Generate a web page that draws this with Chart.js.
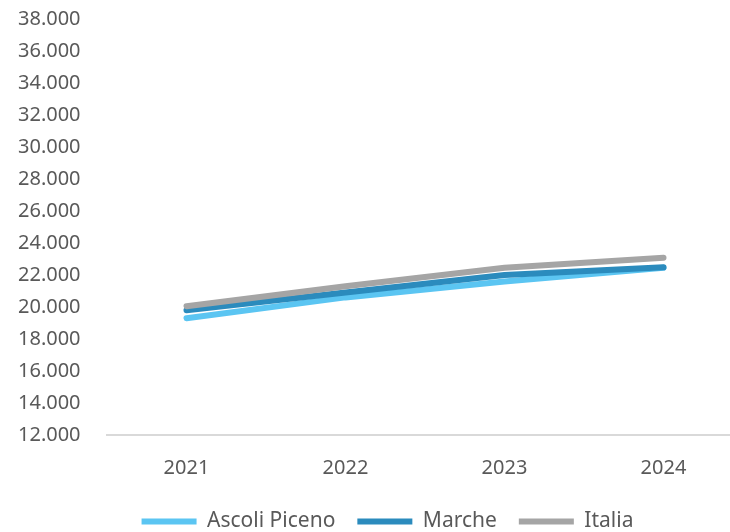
<!DOCTYPE html>
<html>
<head>
<meta charset="utf-8">
<script src="https://cdn.jsdelivr.net/npm/chart.js@4.4.1/dist/chart.umd.min.js"></script>
<style>
    html, body { margin: 0; padding: 0; background: #fff; overflow: hidden; }
    #wrap { position: relative; width: 743px; height: 532px; }
</style>
</head>
<body>
<div id="wrap"><canvas id="lineChart"></canvas></div>
<script>
// values
var years = ['2021', '2022', '2023', '2024'];
var ascoliPiceno = [19300, 20600, 21600, 22450];
var marche = [19800, 20900, 22000, 22480];
var italia = [20050, 21300, 22450, 23080];

var seriesNames = ['Ascoli Piceno', 'Marche', 'Italia'];
var seriesColors = ['#5bc5f2', '#2b8bbd', '#a5a5a5'];

var yMin = 12000;
var yMax = 38000;
var yStep = 2000;

function fmtThousands(v) {
    return String(v).replace(/\B(?=(\d{3})+(?!\d))/g, '.');
}

// nudge the legend into place after layout (chart.js ties its spacing to padding)
var legendShift = {
    id: 'legendShift',
    afterLayout: function (chart) {
        var lg = chart.legend;
        if (!lg) return;
        lg.left += 7;
        lg.right += 7;
        lg.top -= 12;
        lg.bottom -= 12;
    }
};

var ctx = document.getElementById('lineChart');
var allSeries = [ascoliPiceno, marche, italia];

var datasets = allSeries.map(function (vals, i) {
    return {
        label: seriesNames[i],
        data: vals,
        borderColor: seriesColors[i],
        backgroundColor: seriesColors[i],
        borderWidth: 6,
        borderCapStyle: 'round',
        borderJoinStyle: 'round',
        pointRadius: 0,
        tension: 0,
        fill: false,
        order: 2 - i   // Italia on top
    };
});

var chart = new Chart(ctx, {
    type: 'line',
    data: { labels: years, datasets: datasets },
    plugins: [legendShift],
    options: {
        responsive: true,
        maintainAspectRatio: false,
        animation: false,
        layout: { padding: { left: 18, right: 0, top: 19, bottom: -22 } },
        plugins: {
            tooltip: { enabled: false },
            legend: {
                position: 'bottom',
                labels: {
                    font: { family: 'Noto Sans', size: 21 },
                    color: '#595959',
                    boxWidth: 55,
                    boxHeight: 6,
                    padding: 22,
                    useBorderRadius: true,
                    borderRadius: 3,
                    generateLabels: function (c) {
                        return c.data.datasets.map(function (ds, i) {
                            return {
                                text: ds.label,
                                fillStyle: ds.borderColor,
                                strokeStyle: ds.borderColor,
                                lineWidth: 0,
                                fontColor: '#595959',
                                datasetIndex: i,
                                hidden: false
                            };
                        });
                    }
                }
            }
        },
        scales: {
            x: {
                offset: true,
                grid: { display: false, drawTicks: false },
                border: { display: true, color: '#d9d9d9', width: 2 },
                ticks: {
                    font: { family: 'Noto Sans', size: 20 },
                    color: '#595959',
                    padding: 21
                }
            },
            y: {
                min: yMin,
                max: yMax,
                grid: { display: false, drawTicks: false },
                border: { display: false },
                afterFit: function (scale) { scale.width = 89; },
                ticks: {
                    stepSize: yStep,
                    crossAlign: 'far',
                    font: { family: 'Noto Sans', size: 20 },
                    color: '#595959',
                    padding: 0,
                    callback: function (v) { return fmtThousands(v); }
                }
            }
        }
    }
});
</script>
</body>
</html>
